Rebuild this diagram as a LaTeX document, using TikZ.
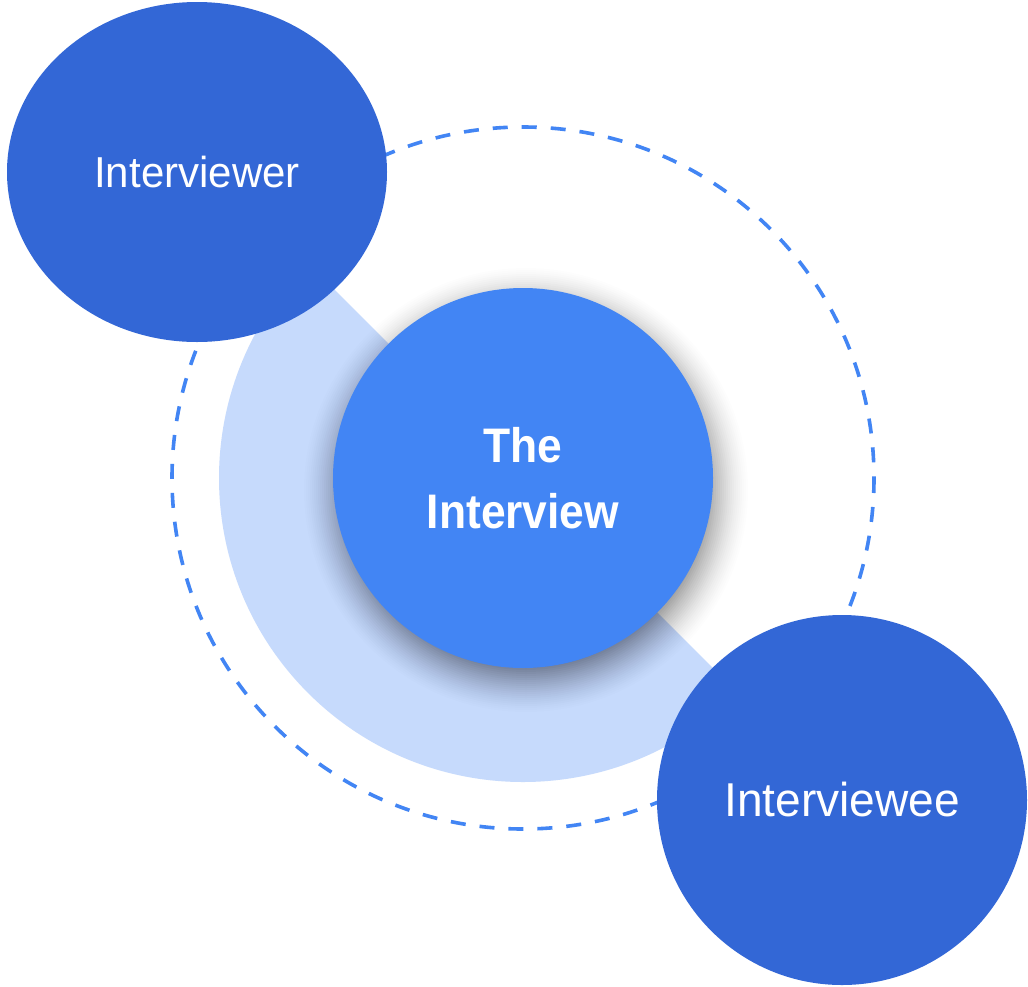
\documentclass[tikz,border=0pt]{standalone}
\usepackage{fontspec}
\setmainfont{Liberation Sans}[FakeStretch=0.97]
\newfontfamily\titlefont{Liberation Sans}[FakeStretch=0.915]
\usetikzlibrary{shapes.geometric}
\definecolor{darkblue}{HTML}{3367D6}
\definecolor{midblue}{HTML}{4285F4}
\definecolor{lightblue}{HTML}{C6DAFC}
\tikzset{
  dashring/.style={draw=midblue, line width=3.6pt, dash pattern=on 15pt off 14pt},
  outerbubble/.style={fill=darkblue, inner sep=0pt, text=white},
  centerbubble/.style={circle, fill=midblue, inner sep=0pt, text=white, align=center,
     minimum size=380pt, font=\titlefont\bfseries\fontsize{48.5}{66}\selectfont},
}
\begin{document}
\begin{tikzpicture}[x=1pt,y=-1pt]
\useasboundingbox (0,0) rectangle (1028,986);
\fill[white] (0,0) rectangle (1028,986);
\coordinate (c) at (523,478);
% dashed ring
\draw[dashring] (c) circle[radius=351];
% light half disc
\fill[lightblue] (c) -- ++(45:304) arc[start angle=45,end angle=225,radius=304] -- cycle;
% blurred shadow
\foreach \i in {0,...,26}{
  \pgfmathsetmacro{\rr}{222-2*\i}
  \pgfmathsetmacro{\aa}{min(0.034,0.006+0.028*2*\i/44)}
  \fill[black, opacity=\aa] (526,490) circle[radius=\rr];
}
% central circle
\node[centerbubble] (center) at (c) {The\\Interview};
% outer bubbles
\node[outerbubble, ellipse, minimum width=380pt, minimum height=340pt,
      font=\fontsize{43.3}{52}\selectfont] (er) at (197,172) {Interviewer};
\node[outerbubble, circle, minimum size=370pt,
      font=\fontsize{47.5}{56}\selectfont] (ee) at (842,800) {Interviewee};
\end{tikzpicture}
\end{document}
